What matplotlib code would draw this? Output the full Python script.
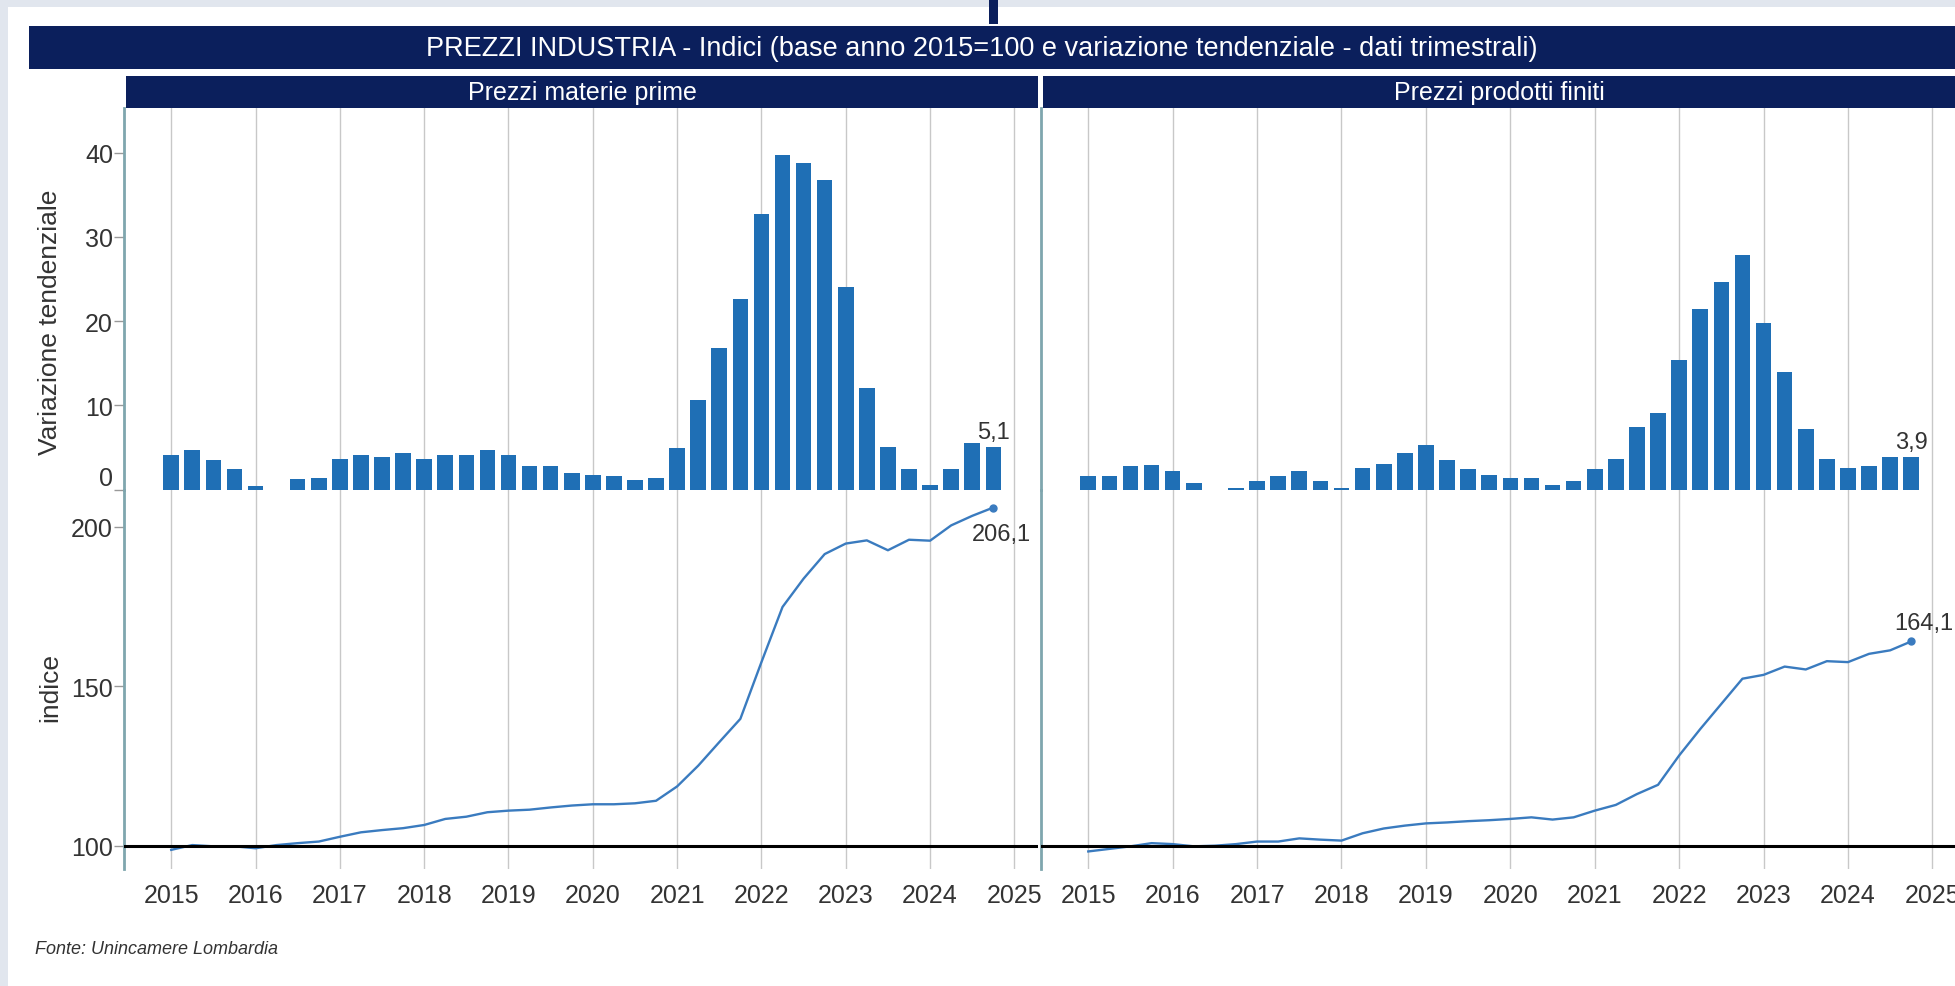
import matplotlib.pyplot as plt
from matplotlib.patches import Rectangle
import numpy as np
import pandas as pd

plt.rcParams['font.family'] = ['Liberation Sans', 'DejaVu Sans']

W, H = 1956, 987

# trimestri 2015Q1 - 2024Q4
periodi = pd.period_range('2015Q1', '2024Q4', freq='Q')
anni = list(range(2015, 2026))

# variazione tendenziale (%)
mp_var = [4.1, 4.7, 3.5, 2.4, 0.4, -1.5, 1.3, 1.4, 3.7, 4.1,
          3.9, 4.3, 3.7, 4.1, 4.1, 4.7, 4.1, 2.8, 2.8, 2.0,
          1.8, 1.6, 1.2, 1.4, 4.9, 10.6, 16.8, 22.6, 32.7, 39.7,
          38.8, 36.8, 24.0, 12.1, 5.1, 2.4, 0.6, 2.4, 5.5, 5.1]
pf_var = [1.6, 1.6, 2.8, 2.9, 2.2, 0.8, -0.8, 0.2, 1.0, 1.6,
          2.2, 1.0, 0.2, 2.6, 3.1, 4.3, 5.3, 3.5, 2.4, 1.8,
          1.4, 1.4, 0.6, 1.0, 2.4, 3.7, 7.4, 9.1, 15.4, 21.4,
          24.7, 27.9, 19.8, 14.0, 7.2, 3.7, 2.6, 2.8, 3.9, 3.9]

# indici base 2015=100
mp_idx = [98.7, 100.2, 99.8, 99.8, 99.2, 100.2, 100.8, 101.3, 102.8, 104.2,
          104.9, 105.5, 106.5, 108.4, 109.1, 110.5, 111.0, 111.3, 112.0, 112.6,
          113.0, 113.0, 113.3, 114.1, 118.6, 125.1, 132.5, 139.8, 157.6, 174.9,
          183.8, 191.5, 194.8, 195.8, 192.7, 196.0, 195.7, 200.5, 203.5, 206.1]
pf_idx = [98.2, 99.0, 99.8, 100.8, 100.5, 99.8, 100.0, 100.5, 101.3, 101.3,
          102.3, 101.9, 101.6, 103.9, 105.4, 106.3, 107.0, 107.3, 107.7, 108.0,
          108.4, 108.9, 108.2, 108.9, 111.0, 112.8, 116.2, 119.1, 128.3, 136.6,
          144.5, 152.4, 153.6, 156.2, 155.3, 157.9, 157.6, 160.2, 161.3, 164.1]

pannelli = [
    ('Prezzi materie prime', mp_var, mp_idx),
    ('Prezzi prodotti finiti', pf_var, pf_idx),
]

x = np.array([p.year + (p.quarter - 1) / 4 for p in periodi])

NAVY = '#0b1f5c'
BAR = '#1f6fb5'
LINE = '#3a7bbf'
SPINE = '#7fa6ae'
GRID = '#c8c8c8'
TXT = '#333333'


def fig_rect(x0, y0, x1, y1):
    # pixel box (top-left origin) -> figure fractions
    return [x0 / W, 1 - y1 / H, (x1 - x0) / W, (y1 - y0) / H]


def box(fig, x0, y0, x1, y1, color):
    l, b, w, h = fig_rect(x0, y0, x1, y1)
    fig.add_artist(Rectangle((l, b), w, h, transform=fig.transFigure,
                             color=color, lw=0, zorder=0))


fig = plt.figure(figsize=(W / 100, H / 100), dpi=100, facecolor='#e1e6ee')
box(fig, 8, 8, W, H, 'white')
box(fig, 989, 0, 998, 25, NAVY)
box(fig, 29, 27, W, 70, NAVY)
fig.text(982 / W, 1 - 48.5 / H,
         'PREZZI INDUSTRIA - Indici (base anno 2015=100 e variazione tendenziale - dati trimestrali)',
         color='white', fontsize=19.5, ha='center', va='center')

lefts = [(124, 1038), (1041, W)]
y_top, y_mid, y_bot = 109, 490.7, 870

for (titolo, var, idx), (xl, xr) in zip(pannelli, lefts):
    hx0 = xl + 2
    box(fig, hx0, 77, xr, 109, NAVY)
    fig.text((hx0 + xr) / 2 / W, 1 - 93 / H, titolo, color='white',
             fontsize=18, ha='center', va='center')

    ax_b = fig.add_axes(fig_rect(xl, y_top, xr, y_mid))
    ax_l = fig.add_axes(fig_rect(xl, y_mid, xr, y_bot))

    for ax in (ax_b, ax_l):
        ax.set_xlim(2014.44, 2025.28)
        ax.set_xticks(anni)
        ax.grid(axis='x', color=GRID, lw=1)
        ax.set_axisbelow(True)
        for s in ('top', 'right', 'bottom'):
            ax.spines[s].set_visible(False)
        ax.spines['left'].set_color(SPINE)
        ax.spines['left'].set_linewidth(2)
        ax.tick_params(axis='y', length=7, width=1, color='#999999',
                       labelsize=18, labelcolor=TXT, pad=1)
        ax.set_facecolor('none')

    # barre: variazione tendenziale
    ax_b.bar(x, var, width=0.185, color=BAR, zorder=2)
    ax_b.set_ylim(0, 45.3)
    ax_b.set_yticks([0, 10, 20, 30, 40])
    ax_b.tick_params(axis='x', length=0, labelbottom=False)
    ax_b.get_yticklabels()[0].set_va('bottom')
    ax_b.annotate(f'{var[-1]:.1f}'.replace('.', ','), (x[-1], var[-1]),
                  xytext=(0, 3), textcoords='offset points',
                  ha='center', va='bottom', fontsize=17, color=TXT)

    # linea: indice
    ax_l.axhline(100, color='black', lw=2.2, zorder=3)
    ax_l.plot(x, idx, color=LINE, lw=1.7, zorder=2)
    ax_l.plot(x[-1], idx[-1], 'o', color=LINE, ms=5, zorder=4)
    ax_l.set_ylim(92.69, 211.7)
    ax_l.set_yticks([100, 150, 200])
    ax_l.tick_params(axis='x', length=0, labelsize=18, labelcolor=TXT, pad=10)

    if xl < 500:
        # titoli asse y centrati sull'intervallo dei tick
        for ax, lab in ((ax_b, 'Variazione tendenziale'), (ax_l, 'indice')):
            t = ax.get_yticks()
            yc = ax.transData.transform((0, (t[0] + t[-1]) / 2))[1]
            yc = fig.transFigure.inverted().transform((0, yc))[1]
            fig.text(50 / W, yc, lab, rotation=90,
                     fontsize=19, color=TXT, ha='center', va='center')
        ax_l.annotate(f'{idx[-1]:.1f}'.replace('.', ','), (x[-1], idx[-1]),
                      xytext=(6, -11), textcoords='offset points',
                      ha='center', va='top', fontsize=17, color=TXT)
    else:
        ax_b.tick_params(axis='y', labelleft=False, length=0)
        ax_l.tick_params(axis='y', labelleft=False, length=0)
        ax_l.annotate(f'{idx[-1]:.1f}'.replace('.', ','), (x[-1], idx[-1]),
                      xytext=(9, 5), textcoords='offset points',
                      ha='center', va='bottom', fontsize=17, color=TXT)

fig.text(35 / W, 1 - 950 / H, 'Fonte: Unincamere Lombardia', style='italic',
         fontsize=13, color=TXT, va='center')

fig.savefig('out.png', dpi=100, facecolor=fig.get_facecolor())
